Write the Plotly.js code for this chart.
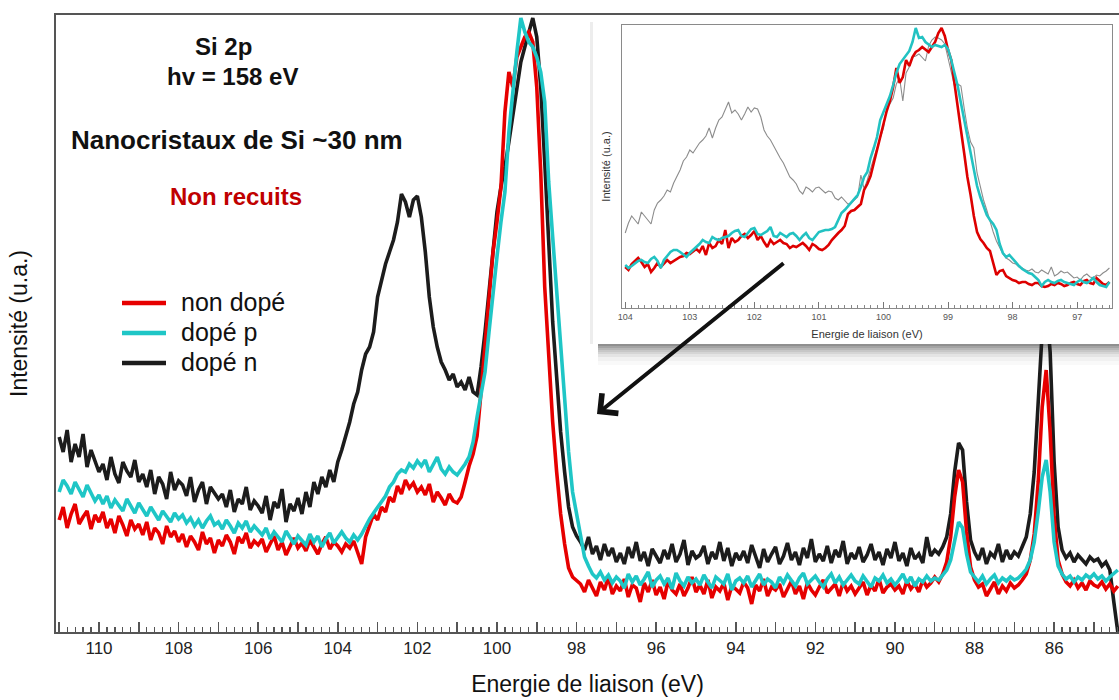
<!DOCTYPE html>
<html>
<head>
<meta charset="utf-8">
<script src="https://cdn.plot.ly/plotly-3.0.1.min.js"></script>
<style>html,body{margin:0;padding:0;background:#fff}#chart{width:1119px;height:700px}</style>
</head>
<body>
<div id="chart"></div>
<script>
// ---------- DATA ----------
const seriesNames = ['non dopé', 'dopé p', 'dopé n'];

// main spectrum: binding energy grid start / step (eV)
const mainEnergyStart = 111.0;
const mainEnergyStep = -0.1;

const mainNonDope = [112,125,104,118,128,108,115,121,103,117,110,
120,104,113,99,116,107,96,112,103,108,
97,110,92,104,99,88,106,95,101,90,
98,85,96,90,82,100,88,94,79,92,
86,97,90,78,95,89,99,84,91,87,
93,80,88,96,82,90,77,86,94,84,
89,81,92,85,78,88,95,83,90,86,
80,88,84,91,79,68,95,108,118,112,
125,120,135,130,146,138,152,144,149,140,
145,137,148,130,140,134,127,138,131,129,
135,150,166,178,196,240,290,335,380,410,
445,520,560,545,575,585,595,600,590,545,
460,345,270,210,160,118,88,64,55,52,
48,40,52,44,36,50,42,55,38,46,
41,53,35,47,44,30,49,40,52,37,
45,33,51,42,38,48,36,44,55,40,
47,38,52,34,45,41,49,32,46,43,
39,50,44,28,47,41,53,36,45,42,
48,35,44,51,38,46,33,49,42,37,
45,52,39,43,48,36,50,41,46,38,
44,50,37,47,41,53,39,45,48,42,
46,38,51,43,48,40,52,45,49,55,
50,58,70,95,135,162,150,100,65,52,
45,48,36,44,50,38,46,41,49,44,
47,52,58,72,98,150,225,262,200,115,
72,58,50,46,52,44,49,42,51,47,
45,50,43,48,41,46];

const mainDopeP = [140,152,146,138,150,142,135,147,139,131,137,
128,136,124,132,127,121,133,126,119,129,
123,116,125,118,112,121,115,110,119,113,
117,109,114,106,112,104,111,116,107,110,
103,112,106,99,109,104,111,100,106,102,
97,104,93,100,95,90,101,94,88,96,
92,87,98,90,96,85,93,99,89,95,
100,94,90,97,92,98,106,113,119,125,
131,136,145,150,158,162,160,168,164,171,
166,172,160,168,175,163,158,165,160,157,
162,168,175,190,215,240,260,300,340,375,
410,440,500,545,580,614,600,590,585,575,
560,530,450,395,340,290,232,180,140,118,
95,75,66,58,54,60,52,57,49,55,
51,44,58,50,56,47,53,60,45,52,
56,48,54,43,59,51,46,55,49,53,
47,57,50,44,55,52,48,58,42,51,
54,49,56,45,52,58,47,53,50,44,
55,49,57,51,46,54,59,48,52,56,
50,45,53,58,49,55,47,52,57,51,
48,56,50,45,54,51,57,49,53,47,
52,58,49,55,46,53,50,56,51,54,
52,57,62,72,92,110,104,78,60,55,
50,56,48,53,57,49,54,51,55,52,
54,58,63,72,90,120,155,172,140,90,
66,58,53,56,50,55,52,57,54,58,
53,56,51,55,58,62];

const mainDopeN = [195,180,202,170,188,175,198,165,182,172,160,
168,152,175,158,149,170,161,155,172,150,
158,145,162,138,155,148,133,160,142,151,
147,136,155,130,142,150,128,145,139,133,
138,125,142,120,133,128,145,122,131,126,
119,136,112,130,124,143,110,128,121,134,
118,140,125,150,138,155,145,162,150,170,
182,195,210,228,240,262,278,285,300,335,
352,368,380,392,410,438,430,415,432,436,
415,380,335,305,285,270,262,252,258,245,
250,242,255,240,237,265,300,340,385,420,
445,465,490,515,545,570,585,600,614,595,
545,470,385,310,255,200,160,125,105,96,
90,82,95,78,86,72,88,76,84,70,
79,68,85,74,90,71,80,66,83,75,
69,82,73,88,70,78,92,67,81,74,
77,86,68,80,73,90,71,84,66,79,
72,81,69,87,75,64,83,70,78,85,
68,76,89,72,80,67,84,74,93,70,
78,71,86,69,82,75,91,68,79,73,
85,70,77,88,72,80,67,83,74,90,
71,79,66,84,73,78,69,95,76,82,
78,85,95,118,160,189,182,130,92,80,
72,84,68,79,75,88,70,82,73,80,
76,85,95,118,160,230,300,330,280,170,
105,82,74,79,70,77,72,68,75,71,
73,66,70,62,30,0];

// inset (zoom 104 - 96.5 eV)
const insetEnergyStart = 104.0;
const insetEnergyStep = -0.05;

const insetNonDope = [41,38,44,47,50,46,41,44,36,40,
45,41,44,48,45,47,49,51,52,55,
54,57,59,56,62,53,65,60,62,68,
64,78,60,70,66,68,72,74,70,73,
77,68,72,66,61,68,64,66,68,65,
64,60,62,61,63,65,62,58,64,62,
59,58,60,63,68,72,75,78,82,94,
97,98,101,104,118,124,132,145,158,171,
186,197,207,221,240,225,231,248,242,251,
256,258,261,258,256,261,266,275,280,272,
258,248,223,200,178,155,131,113,92,76,
69,65,60,57,46,33,37,38,32,30,
28,27,25,26,26,24,23,25,25,22,
21,22,24,23,25,24,22,23,25,26,
24,23,27,28,25,24,30,27,24,23,
26];

const insetDopeP = [43,40,42,45,47,48,46,45,49,51,
47,40,48,52,56,58,58,56,53,51,
55,58,60,64,68,66,65,71,69,68,
70,71,72,75,77,78,72,71,75,79,
80,74,73,75,77,81,72,71,75,73,
71,74,75,72,68,72,75,70,68,72,
76,77,78,78,79,81,88,95,98,102,
106,110,113,121,131,136,150,160,171,188,
196,203,212,223,235,244,248,252,257,266,
280,270,271,266,263,261,263,262,261,263,
259,248,235,222,205,188,172,156,138,122,
111,101,93,88,84,78,64,55,51,53,
49,46,42,39,37,35,34,31,28,22,
26,28,26,25,27,28,26,25,24,23,
26,28,26,25,27,30,26,23,22,21,
26];

const insetDopeN = [75,85,92,88,84,96,92,88,84,98,
105,108,112,118,116,125,132,138,147,151,
158,155,160,165,168,172,180,170,180,188,
191,198,206,195,198,194,188,194,201,196,
200,199,191,178,172,168,162,155,150,145,
138,131,128,124,117,114,121,119,116,120,
121,118,115,117,116,110,108,111,107,104,
105,108,111,133,119,128,140,150,160,170,
180,200,204,210,224,230,207,235,241,251,
252,254,250,247,262,268,271,270,268,264,
250,236,222,224,222,200,180,166,160,135,
120,108,98,86,76,67,60,54,50,48,
45,44,41,40,38,37,39,36,35,38,
36,34,41,32,34,37,35,36,33,30,
31,28,32,34,31,30,33,32,35,37,
40];

const mainTickVals = [111,110,109,108,107,106,105,104,103,102,101,100,99,98,97,96,95,94,93,92,91,90,89,88,87,86,85];
const mainTickText = ['','110','','108','','106','','104','','102','','100','','98','','96','','94','','92','','90','','88','','86',''];

const annotationTexts = ['Si 2p', 'hv = 158 eV', 'Nanocristaux de Si ~30 nm', 'Non recuits'];

// ---------- GEOMETRY ----------
const W = 1119, H = 700, ML = 56, MR = 0, MT = 15, MB = 68;
const px = x => (x - ML) / (W - ML - MR);
const py = y => (H - MB - y) / (H - MB - MT);

const FONT = 'Liberation Sans, Arial, Helvetica, sans-serif';
const RED = '#e60000', CYAN = '#1fc6c6', BLACK = '#1c1c1c';
const seriesColors = [RED, CYAN, BLACK];

const mainLine = (color) => ({color: color, width: 3.6});

const traces = [
  {type: 'scatter', mode: 'lines', name: seriesNames[2], x0: mainEnergyStart, dx: mainEnergyStep, y: mainDopeN,
   line: mainLine(BLACK), hoverinfo: 'skip'},
  {type: 'scatter', mode: 'lines', name: seriesNames[0], x0: mainEnergyStart, dx: mainEnergyStep, y: mainNonDope,
   line: mainLine(RED), hoverinfo: 'skip'},
  {type: 'scatter', mode: 'lines', name: seriesNames[1], x0: mainEnergyStart, dx: mainEnergyStep, y: mainDopeP,
   line: mainLine(CYAN), hoverinfo: 'skip'},
  // white panel holding the inset
  {type: 'scatter', mode: 'markers', x: [0.5], y: [0.5], xaxis: 'x2', yaxis: 'y2',
   marker: {opacity: 0}, hoverinfo: 'skip'},
  // inset
  {type: 'scatter', mode: 'lines', name: seriesNames[2], x0: insetEnergyStart, dx: insetEnergyStep, y: insetDopeN,
   xaxis: 'x3', yaxis: 'y3', line: {color: '#8c8c8c', width: 1.1}, hoverinfo: 'skip'},
  {type: 'scatter', mode: 'lines', name: seriesNames[0], x0: insetEnergyStart, dx: insetEnergyStep, y: insetNonDope,
   xaxis: 'x3', yaxis: 'y3', line: {color: '#dd0000', width: 2.6}, hoverinfo: 'skip'},
  {type: 'scatter', mode: 'lines', name: seriesNames[1], x0: insetEnergyStart, dx: insetEnergyStep, y: insetDopeP,
   xaxis: 'x3', yaxis: 'y3', line: {color: '#22c2c2', width: 2.6}, hoverinfo: 'skip'}
];

// soft drop shadow under the inset panel
const shadowSteps = [[344,346,0.62],[346,348,0.50],[348,350,0.40],[350,352,0.31],[352,354,0.23],[354,357,0.15],[357,361,0.08],[361,365,0.03]];
const shapes = shadowSteps.map(s => ({
  type: 'rect', xref: 'paper', yref: 'paper', layer: 'below',
  x0: px(598), x1: 1, y0: py(s[1]), y1: py(s[0]),
  fillcolor: '#4a4a4a', opacity: s[2], line: {width: 0}
}));
// faint side shadow on the panel's left edge
shapes.push({type: 'rect', xref: 'paper', yref: 'paper', layer: 'below',
  x0: px(590), x1: px(593), y0: py(344), y1: py(22), fillcolor: '#888', opacity: 0.15, line: {width: 0}});

// legend keys
const legendY = [303, 333, 363];
seriesNames.forEach((nm, i) => {
  shapes.push({type: 'line', xref: 'paper', yref: 'paper', layer: 'above',
    x0: px(122), x1: px(166), y0: py(legendY[i]), y1: py(legendY[i]),
    line: {color: seriesColors[i], width: 4.5}});
});

const textAnn = (txt, x, y, color, size) => ({
  text: '<b>' + txt + '</b>', xref: 'paper', yref: 'paper', x: px(x), y: py(y),
  xanchor: 'center', yanchor: 'middle', showarrow: false,
  font: {family: FONT, size: size, color: color}
});

const annotations = [
  textAnn(annotationTexts[0], 223, 46, '#111', 24),
  textAnn(annotationTexts[1], 232, 76, '#111', 24),
  textAnn(annotationTexts[2], 237, 140, '#111', 26),
  textAnn(annotationTexts[3], 236, 196, '#c00000', 24),
  {text: '', xref: 'paper', yref: 'paper', x: px(597), y: py(414), ax: 188, ay: -152,
   showarrow: true, arrowhead: 4, arrowsize: 1.25, arrowwidth: 4, arrowcolor: '#111'}
];
seriesNames.forEach((nm, i) => {
  annotations.push({text: nm, xref: 'paper', yref: 'paper', x: px(179), y: py(legendY[i] - 1),
    xanchor: 'left', yanchor: 'middle', showarrow: false,
    font: {family: FONT, size: 25, color: '#111'}});
});

const layout = {
  width: W, height: H,
  margin: {l: ML, r: MR, t: MT, b: MB, pad: 0},
  paper_bgcolor: '#ffffff', plot_bgcolor: '#ffffff',
  font: {family: FONT, color: '#111'},
  showlegend: false,
  xaxis: {domain: [0, 1], anchor: 'y', range: [111.08, 84.37], autorange: false,
    showline: true, mirror: true, linecolor: '#555', linewidth: 2,
    ticks: 'inside', tickmode: 'array', tickvals: mainTickVals, ticktext: mainTickText,
    ticklen: 10, tickwidth: 1.5, tickcolor: '#555',
    minor: {ticks: 'inside', tickmode: 'linear', tick0: 0, dtick: 0.2, ticklen: 5, tickwidth: 1.2, tickcolor: '#555', showgrid: false},
    tickfont: {family: FONT, size: 17, color: '#222'},
    showgrid: false, zeroline: false, automargin: false,
    title: {text: 'Energie de liaison (eV)', font: {family: FONT, size: 23, color: '#111'}, standoff: 18}},
  yaxis: {domain: [0, 1], anchor: 'x', range: [0, 617], autorange: false,
    showline: true, linecolor: '#555', linewidth: 2, ticks: '', showticklabels: false,
    showgrid: false, zeroline: false, automargin: false,
    title: {text: 'Intensité (u.a.)', font: {family: FONT, size: 23, color: '#111'}, standoff: 20}},
  xaxis2: {domain: [px(593), 1], anchor: 'y2', range: [0, 1], visible: false, fixedrange: true},
  yaxis2: {domain: [py(344), py(19)], anchor: 'x2', range: [0, 1], visible: false, fixedrange: true},
  xaxis3: {domain: [px(622), px(1112)], anchor: 'y3', range: [104.05, 96.46], autorange: false,
    showline: true, mirror: true, linecolor: '#8a8a8a', linewidth: 1,
    ticks: 'inside', tickmode: 'linear', tick0: 0, dtick: 1, ticklen: 6, tickwidth: 1, tickcolor: '#777',
    minor: {ticks: 'inside', tickmode: 'linear', tick0: 0, dtick: 0.1, ticklen: 3, tickwidth: 1, tickcolor: '#888', showgrid: false},
    tickfont: {family: FONT, size: 9, color: '#555'},
    showgrid: false, zeroline: false,
    title: {text: 'Energie de liaison (eV)', font: {family: FONT, size: 11, color: '#333'}, standoff: 9}},
  yaxis3: {domain: [py(308), py(25)], anchor: 'x3', range: [0, 283], autorange: false,
    showline: true, mirror: true, linecolor: '#8a8a8a', linewidth: 1,
    ticks: '', showticklabels: false, showgrid: false, zeroline: false,
    title: {text: 'Intensité (u.a.)', font: {family: FONT, size: 11, color: '#333'}, standoff: 8}},
  shapes: shapes,
  annotations: annotations
};

Plotly.newPlot('chart', traces, layout, {displayModeBar: false, staticPlot: true});
</script>
</body>
</html>
